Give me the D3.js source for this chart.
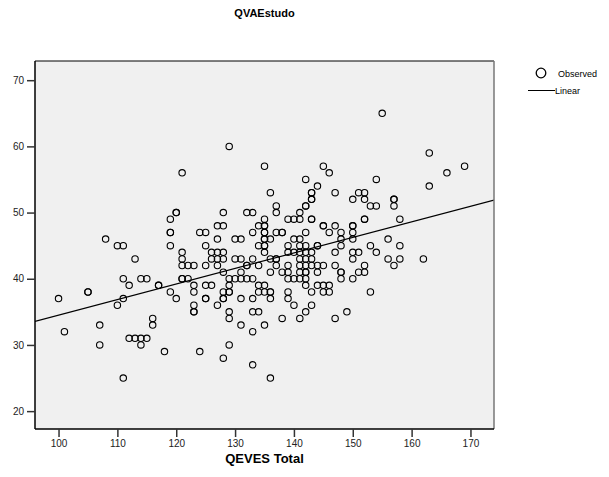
<!DOCTYPE html>
<html>
<head>
<meta charset="utf-8">
<script src="https://cdn.jsdelivr.net/npm/d3@7"></script>
<style>
  body { margin: 0; background: #fff; }
  text { font-family: "Liberation Sans", Arial, sans-serif; }
</style>
</head>
<body>
<script>
// Observed points: [QEVES Total, QVAEstudo]
const observed = [
  [100,37],[101,32],[105,38],[105,38],[107,33],[107,30],[108,46],[110,45],[111,45],[110,36],
  [111,37],[111,25],[112,31],[113,31],[114,31],[115,31],[114,30],[116,34],[116,33],[118,29],
  [111,40],[112,39],[114,40],[115,40],[117,39],[117,39],[113,43],[119,38],[120,37],[119,49],
  [119,47],[119,47],[119,45],[120,50],[120,50],[121,56],[121,44],[121,43],[121,42],[122,42],
  [123,42],[121,40],[121,40],[122,40],[123,39],[123,38],[123,36],[123,35],[123,35],[124,47],
  [125,47],[125,45],[125,42],[125,39],[125,37],[125,37],[124,29],
  [129,60],[135,57],[142,55],[136,53],[143,53],[143,53],[143,52],[143,52],[137,51],[142,51],
  [142,51],[128,50],[132,50],[133,50],[137,50],[141,50],[135,49],[139,49],[140,49],[141,49],
  [143,49],[143,49],[127,48],[128,48],[134,48],[135,48],[135,48],[133,47],[135,47],[135,47],
  [137,47],[138,47],[138,47],[142,47],[127,46],[130,46],[131,46],[135,46],[135,46],[136,46],
  [140,46],[141,46],[134,45],[135,45],[135,45],[139,45],[141,45],[142,45],[144,45],[144,45],
  [126,44],[127,44],[128,44],[135,44],[139,44],[140,44],[141,44],[142,44],[143,44],[126,43],
  [127,43],[128,43],[130,43],[131,43],[133,43],[136,43],[137,43],[137,43],[141,43],[142,43],
  [143,43],[127,42],[132,42],[132,42],[134,42],[137,42],[139,42],[141,42],[142,42],[143,42],
  [128,41],[131,41],[136,41],[138,41],[139,41],[141,41],[142,41],[142,41],[129,40],[130,40],
  [131,40],[132,40],[133,40],[139,40],[140,40],[141,40],[142,40],[126,39],[129,39],[134,39],
  [135,39],[142,39],[128,38],[129,38],[129,38],[134,38],[135,38],[136,38],[136,38],[139,38],
  [128,37],[128,37],[131,37],[133,37],[136,37],[139,37],[127,36],[140,36],[143,36],[129,35],
  [129,34],[133,35],[134,35],[142,35],[138,34],[141,34],[131,33],[135,33],[133,32],[129,30],
  [128,28],[133,27],[136,25],
  [145,57],[146,56],[154,55],[144,54],[147,53],[151,53],[152,53],[150,52],[152,52],[157,52],
  [157,52],[153,51],[154,51],[157,51],[152,49],[152,49],[158,49],[145,48],[145,48],[147,48],
  [150,48],[150,48],[146,47],[148,47],[150,47],[148,46],[150,46],[156,46],[148,45],[153,45],
  [158,45],[147,44],[150,44],[151,44],[154,44],[150,43],[156,43],[158,43],[144,42],[145,42],
  [147,42],[152,42],[157,42],[144,41],[148,41],[148,41],[151,41],[152,41],[148,40],[150,40],
  [144,39],[145,39],[146,39],[145,38],[146,38],[153,38],[149,35],[147,34],[143,38],
  [163,59],[166,56],[169,57],[163,54],[162,43],[155,65]
];

// Linear fit: y = a + b * x
const fitIntercept = 11.0;
const fitSlope = 0.235;

const xTicks = [100, 110, 120, 130, 140, 150, 160, 170];
const yTicks = [20, 30, 40, 50, 60, 70];

const width = 609, height = 477;
const plot = { left: 35, right: 494, top: 61, bottom: 429 };

const svg = d3.select("body").append("svg")
    .attr("width", width)
    .attr("height", height);

const x = d3.scaleLinear().domain([96, 174]).range([plot.left, plot.right]);
const y = d3.scaleLinear().domain([17.3, 72.9]).range([plot.bottom, plot.top]);

// Title
svg.append("text")
    .attr("x", (plot.left + plot.right) / 2)
    .attr("y", 17)
    .attr("text-anchor", "middle")
    .style("font-size", "11px")
    .style("font-weight", "bold")
    .text("QVAEstudo");

// Plot background
svg.append("rect")
    .attr("x", plot.left).attr("y", plot.top)
    .attr("width", plot.right - plot.left)
    .attr("height", plot.bottom - plot.top)
    .attr("fill", "#f0f0f0");

svg.append("defs").append("clipPath").attr("id", "clip")
  .append("rect")
    .attr("x", plot.left).attr("y", plot.top)
    .attr("width", plot.right - plot.left)
    .attr("height", plot.bottom - plot.top);

// Points
svg.append("g").selectAll("circle")
  .data(observed)
  .join("circle")
    .attr("cx", d => x(d[0]))
    .attr("cy", d => y(d[1]))
    .attr("r", 3.2)
    .attr("fill", "none")
    .attr("stroke", "#000")
    .attr("stroke-width", 1.1);

// Fit line
const xd = x.domain();
svg.append("line")
    .attr("clip-path", "url(#clip)")
    .attr("x1", x(xd[0])).attr("y1", y(fitIntercept + fitSlope * xd[0]))
    .attr("x2", x(xd[1])).attr("y2", y(fitIntercept + fitSlope * xd[1]))
    .attr("stroke", "#000")
    .attr("stroke-width", 1.2);

// Frame
svg.append("line").attr("x1", plot.left).attr("x2", plot.right)
    .attr("y1", plot.top).attr("y2", plot.top).attr("stroke", "#000").attr("stroke-width", 1);
svg.append("line").attr("x1", plot.right).attr("x2", plot.right)
    .attr("y1", plot.top).attr("y2", plot.bottom).attr("stroke", "#777").attr("stroke-width", 1.5);

// Axes
const xAxis = svg.append("g")
    .attr("transform", `translate(0,${plot.bottom})`)
    .call(d3.axisBottom(x).tickValues(xTicks).tickSize(8).tickSizeOuter(0).tickPadding(3));
const yAxis = svg.append("g")
    .attr("transform", `translate(${plot.left},0)`)
    .call(d3.axisLeft(y).tickValues(yTicks).tickSize(8).tickSizeOuter(0).tickPadding(3));

[xAxis, yAxis].forEach(a => {
  a.select(".domain").attr("stroke", "#000").attr("stroke-width", 1.5);
  a.selectAll(".tick line").attr("stroke", "#333").attr("stroke-width", 1.5);
  a.selectAll(".tick text")
    .style("font-family", "'Liberation Sans', Arial, sans-serif")
    .style("font-size", "10px")
    .attr("fill", "#222");
});
xAxis.select(".domain").attr("d", `M${plot.left},0H${plot.right}`);
yAxis.select(".domain").attr("d", `M0,${plot.top}V${plot.bottom}`);

// X axis title
svg.append("text")
    .attr("x", (plot.left + plot.right) / 2)
    .attr("y", 463)
    .attr("text-anchor", "middle")
    .style("font-size", "13px")
    .style("font-weight", "bold")
    .text("QEVES Total");

// Legend
const legend = svg.append("g");
legend.append("circle")
    .attr("cx", 541).attr("cy", 73).attr("r", 4.8)
    .attr("fill", "none").attr("stroke", "#000").attr("stroke-width", 1.3);
legend.append("text")
    .attr("x", 558).attr("y", 76.5)
    .style("font-size", "9px")
    .text("Observed");
legend.append("line")
    .attr("x1", 528).attr("x2", 555)
    .attr("y1", 90.5).attr("y2", 90.5)
    .attr("stroke", "#000").attr("stroke-width", 1);
legend.append("text")
    .attr("x", 555).attr("y", 94)
    .style("font-size", "9px")
    .text("Linear");
</script>
</body>
</html>
